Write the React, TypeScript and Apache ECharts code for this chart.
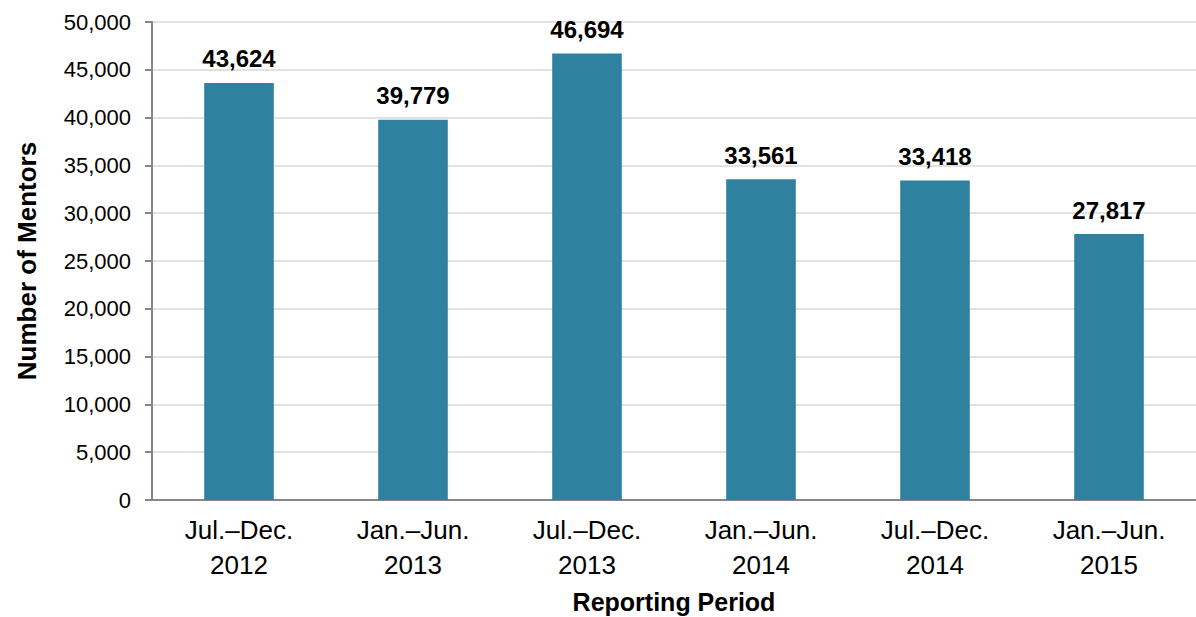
import React, { useEffect, useRef } from "react";
import * as echarts from "echarts";

const categories = [
  "Jul.–Dec.\n2012",
  "Jan.–Jun.\n2013",
  "Jul.–Dec.\n2013",
  "Jan.–Jun.\n2014",
  "Jul.–Dec.\n2014",
  "Jan.–Jun.\n2015",
];
const mentors = [43624, 39779, 46694, 33561, 33418, 27817];

const FONT = "'Liberation Sans', Arial, sans-serif";

export default function App() {
  const ref = useRef<HTMLDivElement>(null);
  useEffect(() => {
    document.body.style.margin = "0";
    const chart = echarts.init(ref.current!, null, { renderer: "svg" });
    chart.setOption({
      animation: false,
      textStyle: { fontFamily: FONT },
      grid: {
        left: 152,
        right: 0,
        top: 22,
        bottom: 117,
        containLabel: false,
        outerBoundsMode: "none",
      },
      xAxis: {
        type: "category",
        data: categories,
        name: "Reporting Period",
        nameLocation: "middle",
        nameGap: 89,
        nameTextStyle: { fontFamily: FONT, fontSize: 25, fontWeight: "bold", color: "#000" },
        axisLine: { lineStyle: { color: "#868686", width: 2 } },
        axisTick: { show: false },
        axisLabel: {
          fontFamily: FONT,
          fontSize: 26,
          color: "#000",
          lineHeight: 35,
          margin: 12,
          interval: 0,
        },
      },
      yAxis: {
        type: "value",
        min: 0,
        max: 50000,
        interval: 5000,
        name: "Number of Mentors",
        nameLocation: "middle",
        nameGap: 112,
        nameTextStyle: { fontFamily: FONT, fontSize: 26, fontWeight: "bold", color: "#000" },
        axisLine: { show: true, lineStyle: { color: "#868686", width: 2 } },
        axisTick: { show: true, length: 7, lineStyle: { color: "#868686", width: 2 } },
        splitLine: { lineStyle: { color: "#d9d9d9", width: 1.5 } },
        axisLabel: {
          fontFamily: FONT,
          fontSize: 22,
          color: "#000",
          margin: 21,
          formatter: (v: number) => v.toLocaleString("en-US"),
        },
      },
      series: [
        {
          type: "bar",
          data: mentors,
          barWidth: "40%",
          itemStyle: { color: "#2E82A0" },
          label: {
            show: true,
            position: "top",
            distance: 12,
            fontFamily: FONT,
            fontSize: 24,
            fontWeight: "bold",
            color: "#000",
            formatter: (p: any) => Number(p.value).toLocaleString("en-US"),
          },
        },
      ],
    });
    return () => chart.dispose();
  }, []);
  return <div ref={ref} style={{ width: 1196, height: 617 }} />;
}
